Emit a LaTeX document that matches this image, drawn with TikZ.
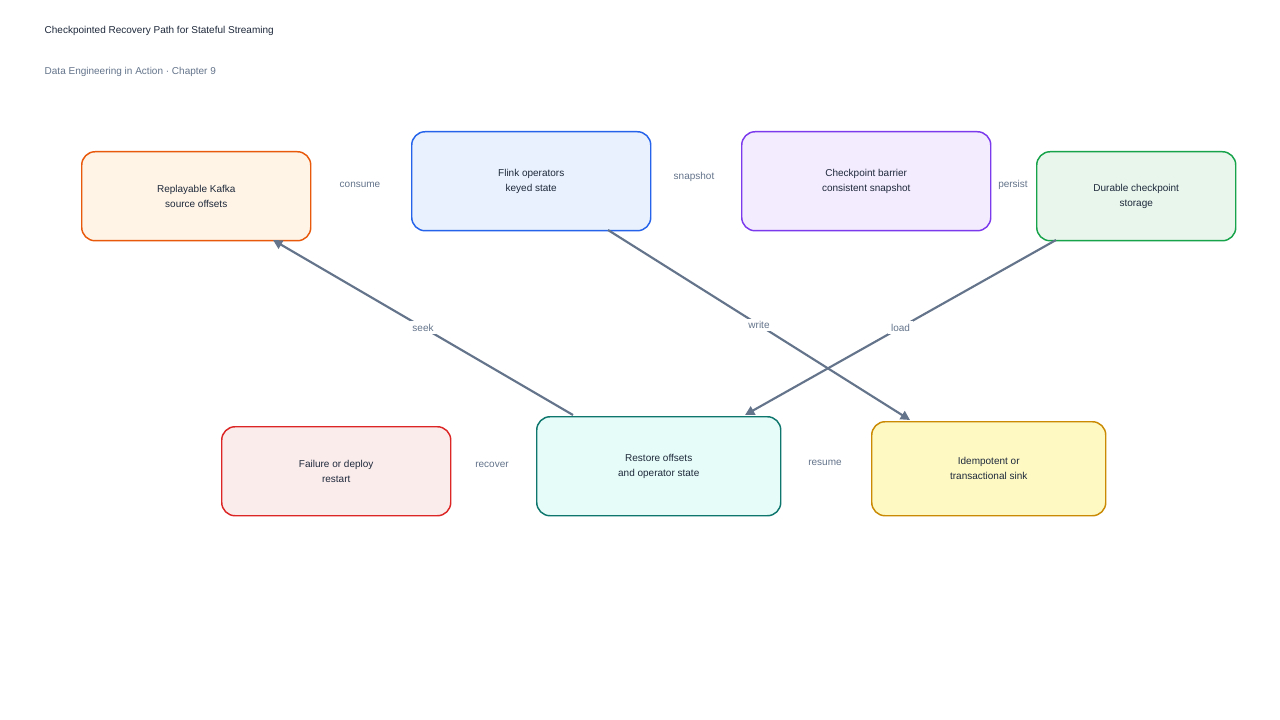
\documentclass[tikz,border=0pt]{standalone}
\usepackage{fontspec}
\setmainfont{Liberation Sans}
\usetikzlibrary{arrows.meta}
\definecolor{edge}{HTML}{64748B}
\definecolor{ink}{HTML}{1E293B}
\definecolor{dOr}{HTML}{E8590C}\definecolor{fOr}{HTML}{FFF4E6}
\definecolor{dBl}{HTML}{2563EB}\definecolor{fBl}{HTML}{E8F1FD}
\definecolor{dPu}{HTML}{7C3AED}\definecolor{fPu}{HTML}{F3EBFE}
\definecolor{dGr}{HTML}{16A34A}\definecolor{fGr}{HTML}{E8F6EC}
\definecolor{dRe}{HTML}{DC2626}\definecolor{fRe}{HTML}{FBECEC}
\definecolor{dTe}{HTML}{0F766E}\definecolor{fTe}{HTML}{E6FCF8}
\definecolor{dYe}{HTML}{CA8A04}\definecolor{fYe}{HTML}{FEF9C3}
\tikzset{
  box/.style={line width=1.1pt, rounded corners=10pt, anchor=north west, align=center, inner sep=0pt, font=\fontsize{7.5}{11}\selectfont, text=ink},
  conn/.style={draw=edge, line width=1.6pt, -{Triangle[length=7pt,width=7pt]}},
  elab/.style={font=\fontsize{7.5}{9}\selectfont, text=edge, fill=white, inner sep=2pt},
}
\begin{document}
\begin{tikzpicture}[x=0.75pt,y=-0.75pt]
\useasboundingbox[fill=white] (0,0) rectangle (1280,720);
\node[anchor=west, font=\fontsize{7.5}{9}\selectfont, text=ink] (t) at (40,31) {Checkpointed Recovery Path for Stateful Streaming};
\node[anchor=west, font=\fontsize{7.5}{9}\selectfont, text=edge] (s) at (40,72) {Data Engineering in Action · Chapter 9};

\node[box, draw=dOr, fill=fOr, minimum width=171.75pt, minimum height=66.75pt] (kafka) at (81,151) {Replayable Kafka\\source offsets};
\node[box, draw=dBl, fill=fBl, minimum width=179.25pt, minimum height=74.25pt] (flink) at (411,131) {Flink operators\\keyed state};
\node[box, draw=dPu, fill=fPu, minimum width=186.75pt, minimum height=74.25pt] (barrier) at (741,131) {Checkpoint barrier\\consistent snapshot};
\node[box, draw=dGr, fill=fGr, minimum width=149.25pt, minimum height=66.75pt] (durable) at (1036,151) {Durable checkpoint\\storage};
\node[box, draw=dRe, fill=fRe, minimum width=171.75pt, minimum height=66.75pt] (fail) at (221,426) {Failure or deploy\\restart};
\node[box, draw=dTe, fill=fTe, minimum width=183pt, minimum height=74.25pt] (restore) at (536,416) {Restore offsets\\and operator state};
\node[box, draw=dYe, fill=fYe, minimum width=175.5pt, minimum height=70.5pt] (sink) at (871,421) {Idempotent or\\transactional sink};

\node[elab] (l1) at (360,185) {consume};
\node[elab] (l2) at (694,177) {snapshot};
\node[elab] (l3) at (1013,185) {persist};
\node[elab] (l4) at (492,465) {recover};
\node[elab] (l5) at (825,463) {resume};

\coordinate (rs) at (573,415);
\coordinate (ke) at (273,240);
\coordinate (fs) at (608,230);
\coordinate (se) at (910,420);
\coordinate (ds) at (1056,240);
\coordinate (re) at (745,415);
\draw[conn] (rs) -- node[elab,pos=0.5]{seek} (ke);
\draw[conn] (fs) -- node[elab,pos=0.5]{write} (se);
\draw[conn] (ds) -- node[elab,pos=0.5]{load} (re);
\end{tikzpicture}
\end{document}
